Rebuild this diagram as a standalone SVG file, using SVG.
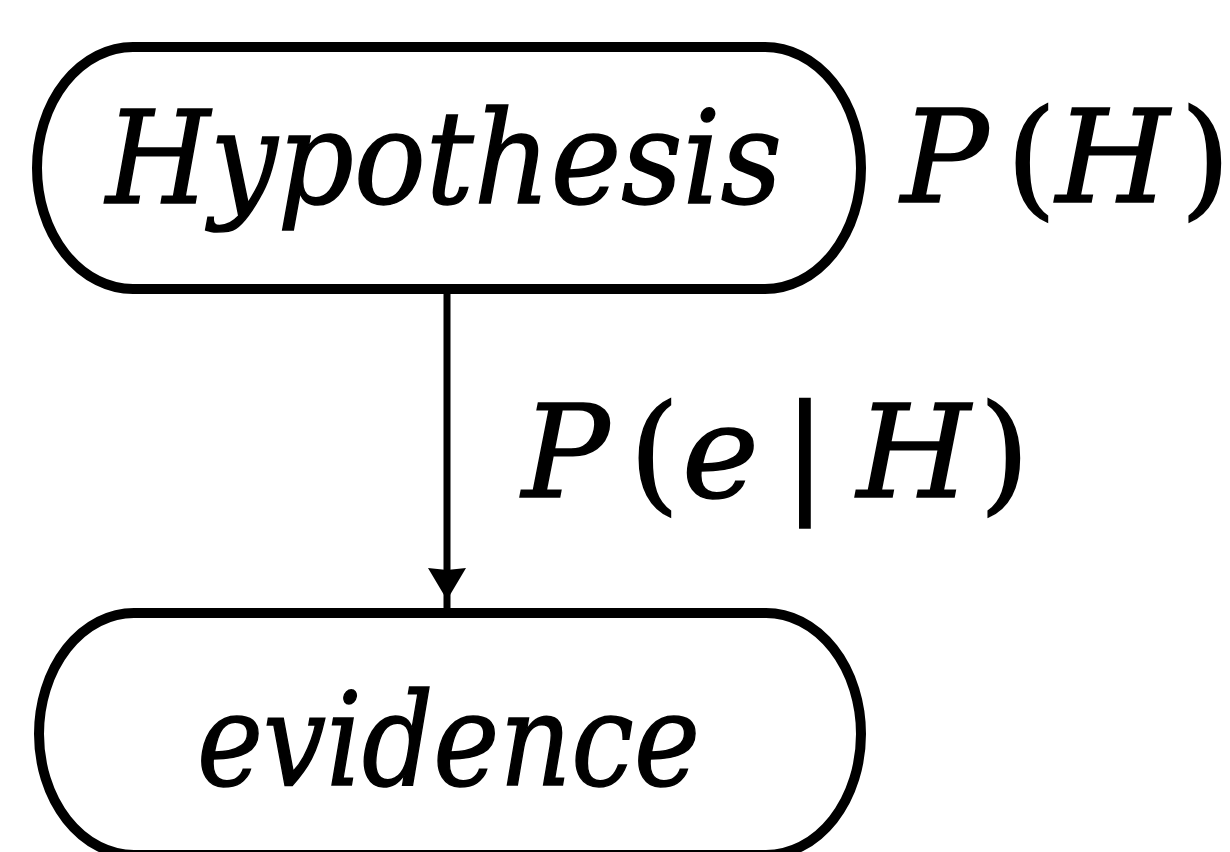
<svg xmlns="http://www.w3.org/2000/svg" width="1230" height="852" viewBox="0 0 1230 852">
<style>
.box{fill:#fff;stroke:#000;stroke-width:10}
.lbl{font-family:"DejaVu Serif","Liberation Serif",serif;font-size:130px;fill:#000;stroke:#000;stroke-width:1.5}
.it{font-style:italic}
.edge{stroke:#000;stroke-width:7;fill:none}
</style>
<defs>
<marker id="arr" markerUnits="userSpaceOnUse" markerWidth="50" markerHeight="44" refX="41" refY="20" orient="auto" viewBox="0 0 50 40">
<path d="M0,1 L2,20 L0,39 L32,20 Z" fill="#000"/>
</marker>
</defs>
<rect width="1230" height="852" fill="#fff"/>
<g id="connectors">
<line class="edge" x1="447" y1="294" x2="447" y2="609" marker-end="url(#arr)"/>
</g>
<g id="hypothesis">
<rect class="box" x="37" y="47" width="824" height="242" rx="96" ry="121"/>
<text class="lbl it" x="106" y="203" textLength="676" lengthAdjust="spacingAndGlyphs">Hypothesis</text>
</g>
<g id="evidence">
<rect class="box" x="39" y="613" width="822" height="242" rx="95" ry="121"/>
<text class="lbl it" x="197" y="785" textLength="503" lengthAdjust="spacingAndGlyphs">evidence</text>
</g>
<g id="labels">
<text class="lbl" y="202"><tspan class="it" x="901">P</tspan><tspan x="1006">(</tspan><tspan class="it" x="1056">H</tspan><tspan x="1180">)</tspan></text>
<text class="lbl" y="497"><tspan class="it" x="522">P</tspan><tspan x="629">(</tspan><tspan class="it" x="682">e</tspan><tspan x="783">|</tspan><tspan class="it" x="857">H</tspan><tspan x="979">)</tspan></text>
</g>
</svg>
